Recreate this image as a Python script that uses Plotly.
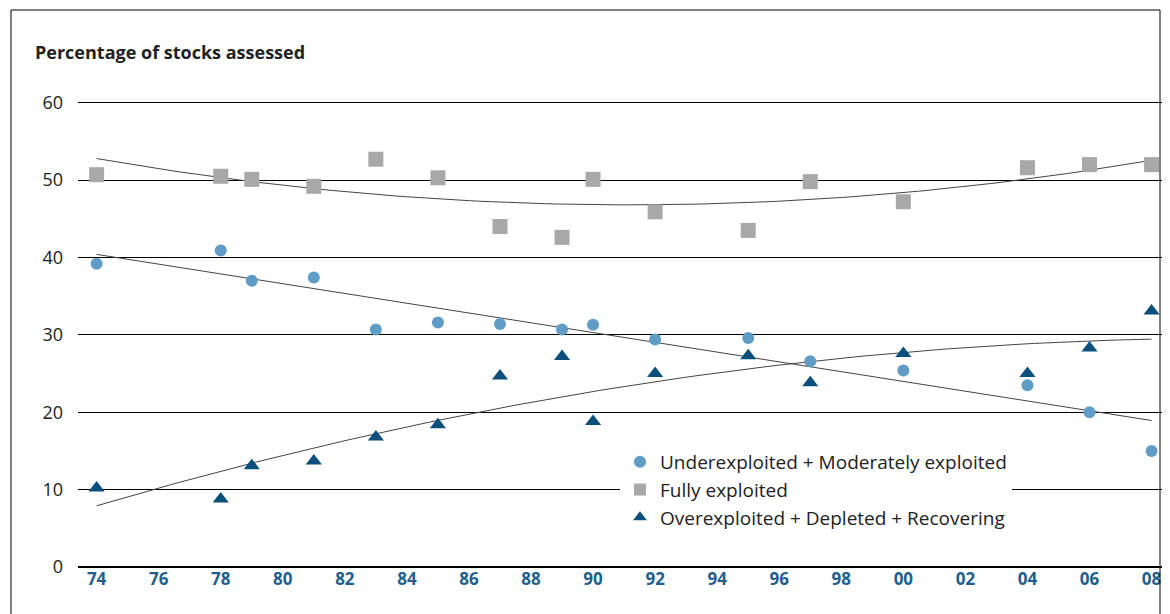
import numpy as np
import plotly.graph_objects as go

years = [1974, 1978, 1979, 1981, 1983, 1985, 1987, 1989, 1990, 1992, 1995, 1997, 2000, 2004, 2006, 2008]
fully = [50.7, 50.5, 50.1, 49.2, 52.7, 50.3, 44.0, 42.6, 50.1, 45.9, 43.5, 49.8, 47.2, 51.6, 52.0, 52.0]
under = [39.2, 40.9, 37.0, 37.4, 30.7, 31.6, 31.4, 30.7, 31.3, 29.4, 29.6, 26.6, 25.4, 23.5, 20.0, 15.0]
over = [10.2, 8.8, 13.1, 13.7, 16.8, 18.4, 24.7, 27.2, 18.8, 25.0, 27.3, 23.8, 27.6, 25.0, 28.3, 33.1]
tick_years = list(range(1974, 2009, 2))
tick_labels = [f"<b>{y % 100:02d}</b>" for y in tick_years]

c_under = "#5f9cc6"
c_fully = "#a8a8a8"
c_over = "#0b4f7c"

# page has an 8px body margin, so the figure is 8px smaller and everything shifted
OFF = 8
W, H = 1170 - OFF, 614 - OFF
L, R, T, B = 78 - OFF, 6, 95 - OFF, 47
pw, ph = W - L - R, H - T - B


def px_x(x):
    return (x - OFF - L) / pw


def px_y(y):
    return (H - B - (y - OFF)) / ph


fig = go.Figure()
xs = np.linspace(1974, 2008, 100)
for vals, deg in [(fully, 2), (under, 1), (over, 2)]:
    p = np.polyfit(years, vals, deg)
    fig.add_trace(go.Scatter(x=xs, y=np.polyval(p, xs), mode="lines",
                             line=dict(color="#444", width=1), showlegend=False, hoverinfo="skip"))

fig.add_trace(go.Scatter(x=years, y=under, mode="markers", name="Underexploited + Moderately exploited",
                         marker=dict(symbol="circle", size=12, color=c_under)))
fig.add_trace(go.Scatter(x=years, y=fully, mode="markers", name="Fully exploited",
                         marker=dict(symbol="square", size=15, color=c_fully)))
fig.add_trace(go.Scatter(x=years, y=over, mode="markers", name="Overexploited + Depleted + Recovering",
                         marker=dict(symbol="triangle-up", size=14, color=c_over)))

fig.update_layout(
    width=W, height=H, plot_bgcolor="white", paper_bgcolor="white",
    margin=dict(l=L, r=R, t=T, b=B),
    font=dict(family="Open Sans", size=16, color="#222"),
    legend=dict(x=px_x(620), y=px_y(443), xanchor="left", yanchor="top", bgcolor="white",
                font=dict(size=19, color="#222"), itemsizing="constant", tracegroupgap=0),
    annotations=[dict(text="<b>Percentage of stocks assessed</b>", x=px_x(33), y=px_y(52),
                      xref="paper", yref="paper", showarrow=False, xanchor="left", yanchor="middle",
                      font=dict(size=18, color="#222"))],
    shapes=[dict(type="rect", xref="paper", yref="paper", x0=px_x(11), y0=px_y(640), x1=px_x(1160),
                 y1=px_y(10), line=dict(color="black", width=1))],
)
fig.update_xaxes(range=[1973.4, 2008.4], tickvals=tick_years, ticktext=tick_labels, showgrid=False,
                 zeroline=False, tickfont=dict(size=17, color="#1f5f8e", family="Open Sans"), ticks="")
fig.update_yaxes(range=[0, 61], dtick=10, showgrid=True, gridcolor="black", gridwidth=1, zeroline=True,
                 zerolinecolor="black", tickfont=dict(size=18, color="#222"), ticks="",
                 ticklabelstandoff=14)
fig.write_html("out.html")
